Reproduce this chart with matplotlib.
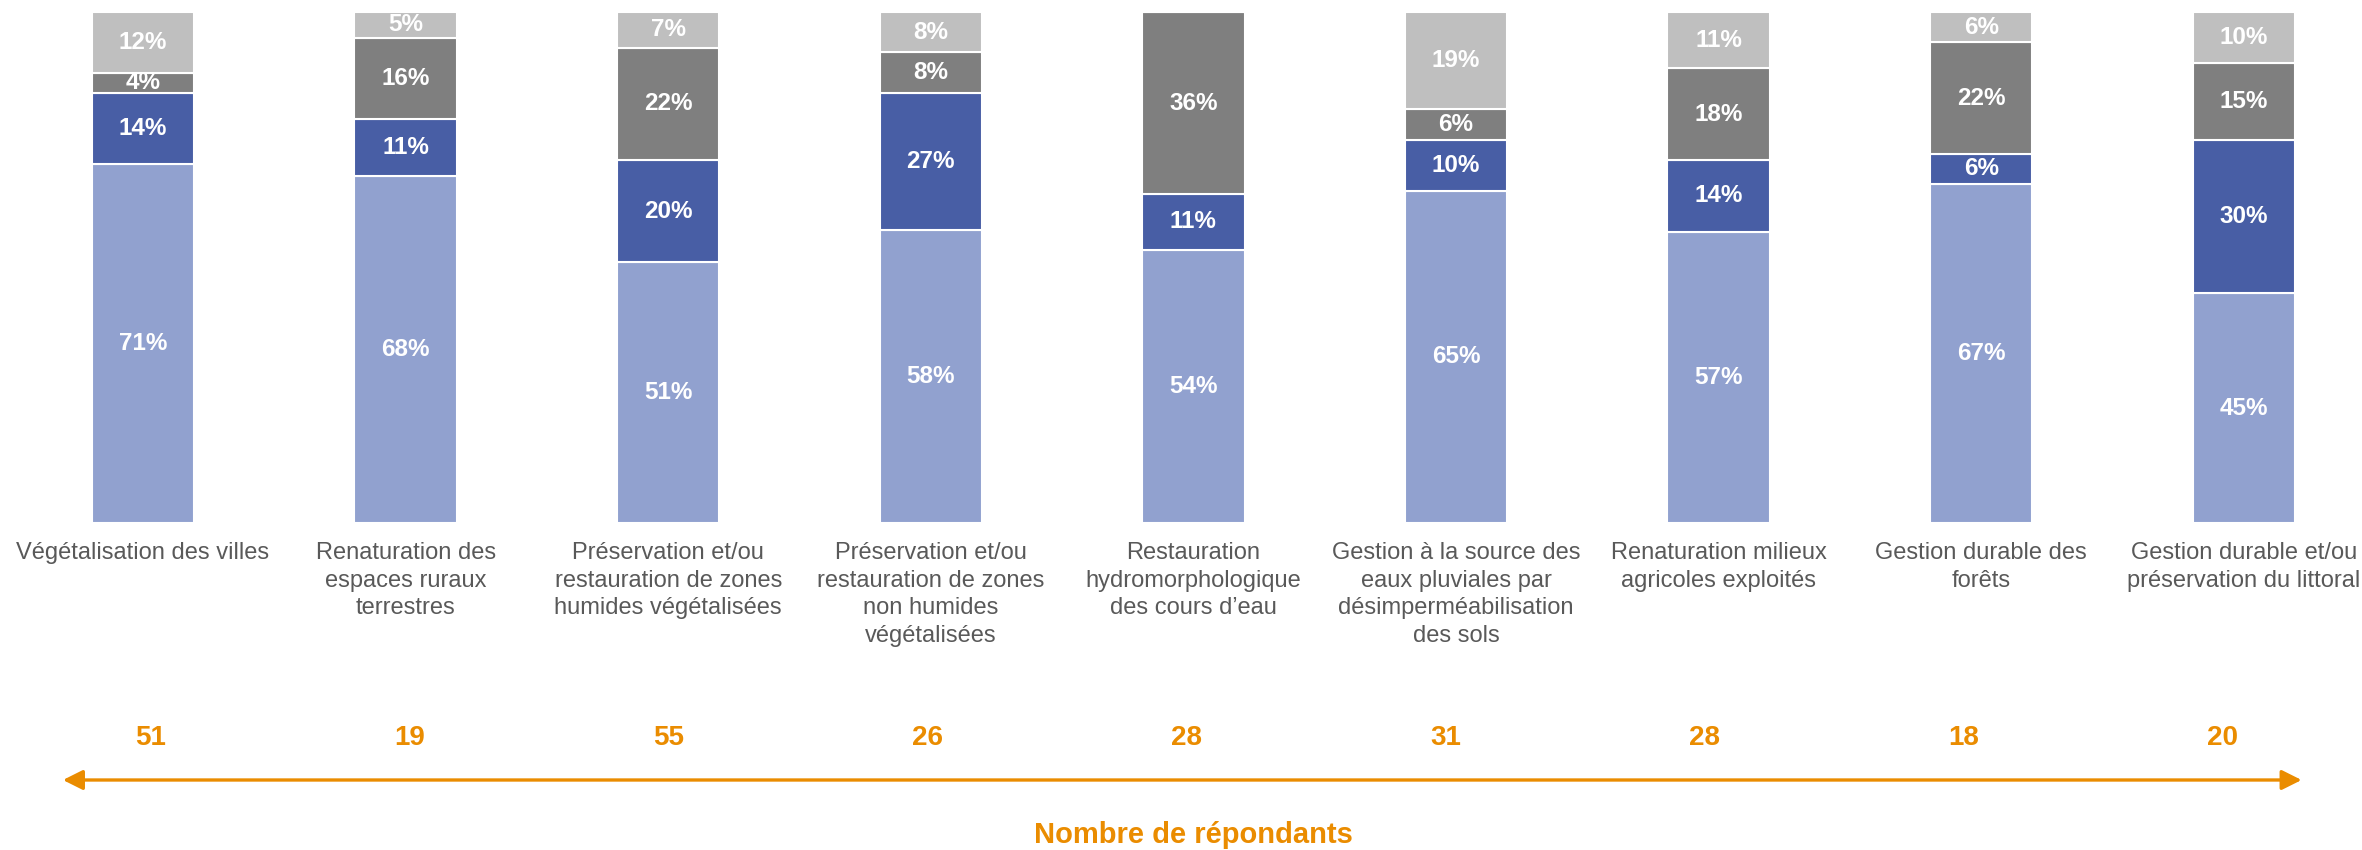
import matplotlib
matplotlib.use("Agg")
import matplotlib.pyplot as plt
import numpy as np

plt.rcParams['font.family'] = ['Liberation Sans', 'DejaVu Sans']

# Data
categories = [
    "Végétalisation des villes",
    "Renaturation des\nespaces ruraux\nterrestres",
    "Préservation et/ou\nrestauration de zones\nhumides végétalisées",
    "Préservation et/ou\nrestauration de zones\nnon humides\nvégétalisées",
    "Restauration\nhydromorphologique\ndes cours d’eau",
    "Gestion à la source des\neaux pluviales par\ndésimperméabilisation\ndes sols",
    "Renaturation milieux\nagricoles exploités",
    "Gestion durable des\nforêts",
    "Gestion durable et/ou\npréservation du littoral",
]
light_blue = [71, 68, 51, 58, 54, 65, 57, 67, 45]
dark_blue = [14, 11, 20, 27, 11, 10, 14, 6, 30]
dark_gray = [4, 16, 22, 8, 36, 6, 18, 22, 15]
light_gray = [12, 5, 7, 8, 0, 19, 11, 6, 10]
respondents = [51, 19, 55, 26, 28, 31, 28, 18, 20]

series = [light_blue, dark_blue, dark_gray, light_gray]
colors = ["#91A1CF", "#485EA5", "#7F7F7F", "#BFBFBF"]
orange = "#EA8C00"

fig = plt.figure(figsize=(23.62, 8.5), dpi=100)
ax = fig.add_axes([0, 0, 1, 1])

x = np.arange(len(categories))
vals = np.array(series, dtype=float)
totals = vals.sum(axis=0)
heights = vals / totals * 100  # every bar fills the full height

bottom = np.zeros(len(categories))
for k, (h, c) in enumerate(zip(heights, colors)):
    ax.bar(x, h, bottom=bottom, width=0.39, color=c, edgecolor="white", linewidth=1.5)
    for i in range(len(x)):
        if vals[k][i] > 0:
            ax.text(x[i], bottom[i] + h[i] / 2, f"{int(vals[k][i])}%", ha="center", va="center",
                    color="white", fontsize=17.5, fontweight="bold")
    bottom += h

for i, cat in enumerate(categories):
    ax.text(x[i], -3.8, cat, ha="center", va="top", fontsize=17, color="#595959", linespacing=1.32)

# respondent counts sit on a slightly narrower row than the bars
num_x = np.linspace(0.03, 7.92, len(respondents))
for xi, n in zip(num_x, respondents):
    ax.text(xi, -42.1, str(n), ha="center", va="center", fontsize=20, fontweight="bold", color=orange)

ax.annotate("", xy=(8.22, -50.3), xytext=(-0.305, -50.3),
            arrowprops=dict(arrowstyle="<|-|>", color=orange, lw=2.4, mutation_scale=30,
                            shrinkA=0, shrinkB=0))
ax.text(4.0, -61.0, "Nombre de répondants", ha="center", va="center", fontsize=21,
        fontweight="bold", color=orange)

ax.set_xlim(-0.5446, 8.450)
ax.set_ylim(-64.0, 102.35)
ax.axis("off")

fig.savefig("out.png", dpi=100)
